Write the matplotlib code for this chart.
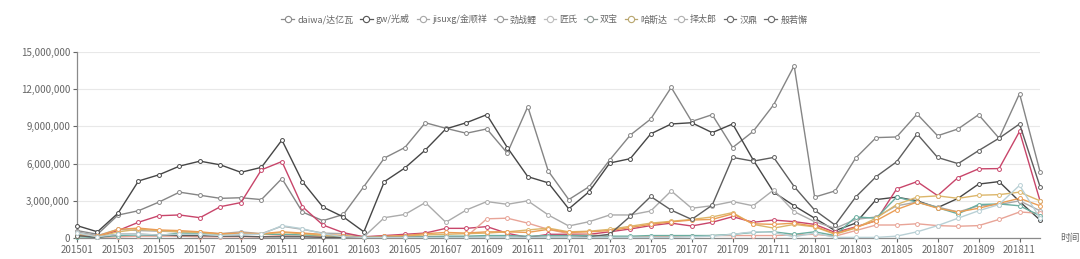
import matplotlib
matplotlib.use("Agg")
import matplotlib.pyplot as plt
from matplotlib.lines import Line2D
from matplotlib.ticker import FuncFormatter

plt.rcParams["font.family"] = ["Noto Sans CJK SC", "DejaVu Sans"]

# months 201501 .. 201812
months = [f"{y}{m:02d}" for y in (2015, 2016, 2017, 2018) for m in range(1, 13)]

names = ["daiwa/达亿瓦", "gw/光威", "jisuxg/金顺祥", "劲战鲤", "匠氏",
         "双宝", "哈斯达", "择太郎", "汉鼎", "般若懈"]

# values in millions
daiwa = [0.6, 0.3, 1.85, 2.2, 2.9, 3.7, 3.45, 3.2, 3.25, 3.1, 4.8, 2.1,
         1.4, 1.9, 4.15, 6.45, 7.3, 9.3, 8.85, 8.45, 8.8, 6.85, 10.6, 5.4,
         3.1, 4.15, 6.3, 8.3, 9.6, 12.15, 9.4, 9.95, 7.3, 8.6, 10.75, 13.9,
         3.3, 3.8, 6.45, 8.1, 8.15, 10.0, 8.25, 8.8, 9.95, 8.05, 11.65, 5.35]
gw = [1.0, 0.5, 2.0, 4.6, 5.1, 5.8, 6.2, 5.9, 5.3, 5.7, 7.9, 4.55,
      2.5, 1.7, 0.5, 4.55, 5.65, 7.1, 8.8, 9.3, 9.95, 7.3, 4.95, 4.45,
      2.35, 3.75, 6.05, 6.4, 8.4, 9.2, 9.3, 8.5, 9.2, 6.3, 3.7, 2.6,
      1.6, 0.6, 1.2, 3.1, 3.3, 3.0, 2.45, 3.2, 4.35, 4.55, 2.95, 1.45]
jisuxg = [0.5, 0.2, 0.7, 0.6, 0.55, 0.5, 0.45, 0.35, 0.5, 0.35, 0.95, 0.7,
          0.4, 0.35, 0.1, 1.64, 1.9, 2.86, 1.27, 2.26, 2.94, 2.72, 3.0, 1.86,
          0.97, 1.32, 1.86, 1.86, 2.18, 3.8, 2.4, 2.61, 2.94, 2.6, 3.88, 2.13,
          1.32, 0.78, 1.5, 1.7, 2.6, 2.9, 2.5, 2.1, 2.6, 2.7, 3.0, 2.2]
jinzhanli = [0.3, 0.1, 0.6, 1.27, 1.8, 1.86, 1.64, 2.53, 2.86, 5.5, 6.17, 2.53,
             1.05, 0.43, 0.1, 0.2, 0.3, 0.4, 0.78, 0.78, 0.92, 0.38, 0.05, 0.3,
             0.3, 0.3, 0.5, 0.73, 1.0, 1.2, 0.97, 1.27, 1.72, 1.27, 1.45, 1.32,
             1.1, 0.45, 0.9, 1.4, 3.96, 4.55, 3.42, 4.88, 5.58, 5.6, 8.6, 3.0]
jiangshi = [0.2, 0.05, 0.1, 0.15, 0.15, 0.15, 0.1, 0.1, 0.1, 0.1, 0.2, 0.15,
            0.1, 0.05, 0.05, 0.05, 0.05, 0.1, 0.1, 0.1, 1.55, 1.6, 1.2, 0.7,
            0.35, 0.3, 0.1, 0.1, 0.1, 0.15, 0.15, 0.2, 0.2, 0.2, 0.2, 0.25,
            0.3, 0.15, 0.6, 1.05, 1.05, 1.15, 1.0, 0.95, 1.0, 1.5, 2.1, 2.0]
shuangbao = [0.1, 0.05, 0.2, 0.25, 0.2, 0.4, 0.35, 0.3, 0.35, 0.3, 0.3, 0.25,
             0.2, 0.1, 0.05, 0.05, 0.1, 0.1, 0.15, 0.15, 0.2, 0.2, 0.15, 0.2,
             0.2, 0.2, 0.15, 0.15, 0.2, 0.2, 0.2, 0.2, 0.3, 0.45, 0.5, 0.3,
             0.5, 0.2, 1.7, 1.6, 3.3, 2.9, 2.45, 1.95, 2.7, 2.75, 2.6, 1.8]
hasida = [0.2, 0.1, 0.5, 0.7, 0.6, 0.5, 0.45, 0.3, 0.3, 0.3, 0.45, 0.35,
          0.2, 0.15, 0.05, 0.1, 0.15, 0.25, 0.3, 0.35, 0.4, 0.5, 0.65, 0.8,
          0.5, 0.55, 0.7, 0.95, 1.2, 1.35, 1.5, 1.7, 2.05, 1.1, 0.8, 1.1,
          0.9, 0.3, 0.8, 1.6, 2.7, 3.3, 3.4, 3.2, 3.45, 3.5, 3.7, 3.0]
zetailang = [0.3, 0.15, 0.7, 0.8, 0.65, 0.6, 0.5, 0.35, 0.4, 0.35, 0.5, 0.4,
             0.3, 0.2, 0.05, 0.15, 0.2, 0.35, 0.45, 0.4, 0.5, 0.5, 0.45, 0.7,
             0.45, 0.5, 0.6, 0.85, 1.1, 1.3, 1.45, 1.5, 1.95, 1.15, 1.1, 1.2,
             0.95, 0.35, 0.85, 1.4, 2.3, 2.9, 2.4, 2.1, 2.4, 2.8, 3.2, 2.6]
handing = [0.2, 0.05, 0.3, 0.3, 0.25, 0.2, 0.2, 0.15, 0.15, 0.1, 0.1, 0.1,
           0.05, 0.05, 0.05, 0.05, 0.05, 0.05, 0.05, 0.05, 0.05, 0.05, 0.05, 0.05,
           0.05, 0.1, 0.3, 1.75, 3.35, 2.25, 1.5, 2.65, 6.5, 6.2, 6.5, 4.15,
           2.25, 1.05, 3.3, 4.95, 6.15, 8.4, 6.5, 6.0, 7.05, 8.05, 9.2, 4.15]
boruoxie = [0.4, 0.1, 0.3, 0.3, 0.25, 0.3, 0.3, 0.2, 0.3, 0.3, 1.0, 0.75,
            0.35, 0.1, 0.05, 0.05, 0.05, 0.05, 0.05, 0.05, 0.05, 0.05, 0.05, 0.05,
            0.05, 0.05, 0.05, 0.05, 0.05, 0.05, 0.1, 0.15, 0.3, 0.5, 0.45, 0.1,
            0.4, 0.05, 0.05, 0.05, 0.15, 0.5, 1.0, 1.6, 2.2, 2.7, 4.25, 1.6]

series = [daiwa, gw, jisuxg, jinzhanli, jiangshi,
          shuangbao, hasida, zetailang, handing, boruoxie]

line_colors = ["#858585", "#464646", "#ababab", "#c8456a", "#e8a497",
               "#6aaea0", "#dcb66a", "#ea9d55", "#5e5e5e", "#b9d0d5"]
legend_colors = ["#8a8a8a", "#555555", "#a8a8a8", "#9a9a9a", "#bdbdbd",
                 "#8f9a96", "#b8a66e", "#b0b0b0", "#6a6a6a", "#6a6a6a"]

fig = plt.figure(figsize=(10.8, 2.59), dpi=100)
ax = fig.add_axes([0.0713, 0.081, 0.8917, 0.718])

x = list(range(len(months)))
for vals, col in zip(series, line_colors):
    ax.plot(x, [v * 1e6 for v in vals], color=col, lw=1.0, marker="o",
            markersize=2.8, markerfacecolor="white", markeredgewidth=0.7,
            markeredgecolor=col, clip_on=False, zorder=3)

ax.set_xlim(0, len(months) - 1)
ax.set_ylim(0, 15e6)
ax.set_yticks([0, 3e6, 6e6, 9e6, 12e6, 15e6])
ax.yaxis.set_major_formatter(FuncFormatter(lambda v, p: f"{int(v):,}"))
ax.set_xticks(x[::2])
ax.set_xticklabels(months[::2])
ax.tick_params(axis="both", labelsize=7, colors="#666666", length=3, width=0.8, pad=2)
ax.grid(axis="y", color="#e8e8e8", lw=0.8)
ax.set_axisbelow(True)
for side in ("top", "right"):
    ax.spines[side].set_visible(False)
for side in ("left", "bottom"):
    ax.spines[side].set_color("#8a8a8a")
    ax.spines[side].set_linewidth(0.9)

fig.text(1060 / 1080, 0.081, "时间", fontsize=7, color="#666666", ha="left", va="center")

handles = [Line2D([0], [0], color=c, lw=0.9, marker="o", markersize=4.5,
                  markerfacecolor="white", markeredgewidth=0.8)
           for c in legend_colors]
fig.legend(handles, names, loc="center", bbox_to_anchor=(0.504, 0.925), ncol=10,
           frameon=False, fontsize=6.5, handlelength=1.4, handletextpad=0.35,
           columnspacing=0.75, labelcolor="#666666")

fig.savefig("out.png", dpi=100)
